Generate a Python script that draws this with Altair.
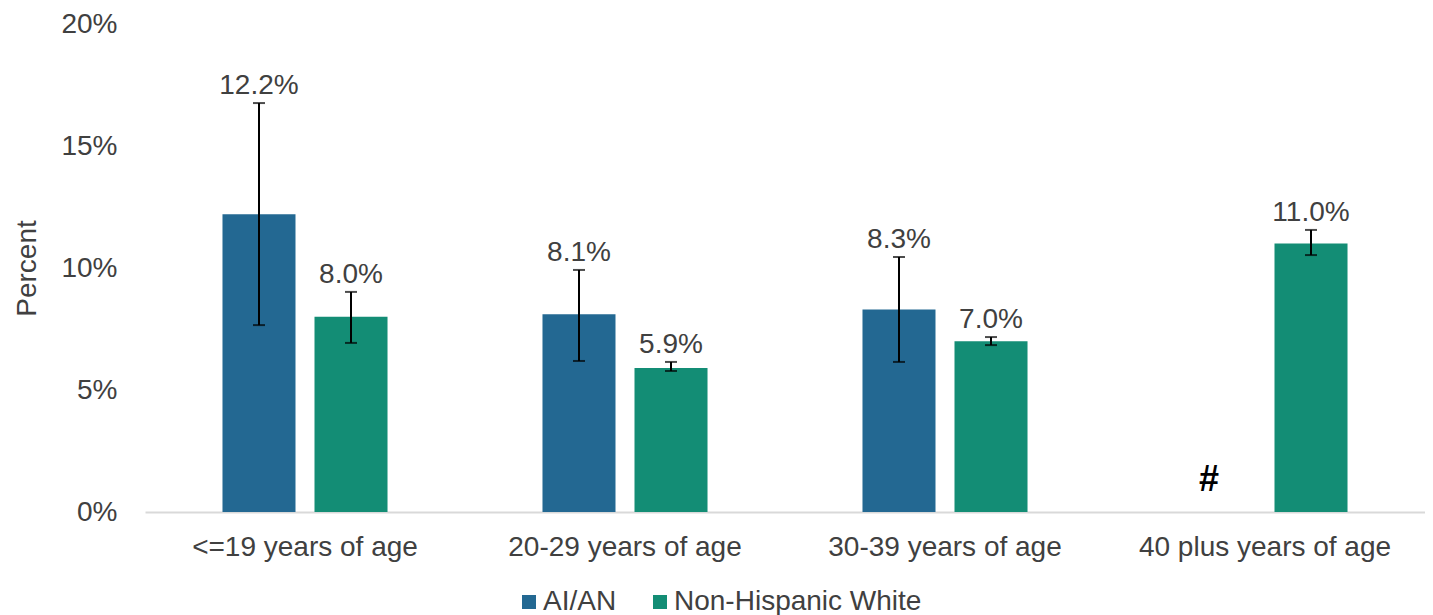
import altair as alt
import pandas as pd

categories = ["<=19 years of age", "20-29 years of age", "30-39 years of age", "40 plus years of age"]
series = ["AI/AN", "Non-Hispanic White"]
aian_values = [12.2, 8.1, 8.3, None]
aian_lower = [7.66, 6.19, 6.15, None]
aian_upper = [16.76, 9.92, 10.45, None]
nhw_values = [8.0, 5.9, 7.0, 11.0]
nhw_lower = [6.93, 5.78, 6.84, 10.53]
nhw_upper = [9.02, 6.15, 7.17, 11.56]
y_ticks = [0, 5, 10, 15, 20]
suppressed_marker = "#"
colors = ["#236892", "#138d75"]

rows = []
for i, c in enumerate(categories):
    rows.append(dict(category=c, series=series[0], value=aian_values[i], lo=aian_lower[i], hi=aian_upper[i]))
    rows.append(dict(category=c, series=series[1], value=nhw_values[i], lo=nhw_lower[i], hi=nhw_upper[i]))
df = pd.DataFrame(rows)
df["label"] = df["value"].map(lambda v: f"{v:.1f}%" if pd.notna(v) else suppressed_marker)

FONT = "Liberation Sans"
TXT = "#404040"
FS = 28

x_enc = alt.X(
    "category:N",
    sort=categories,
    scale=alt.Scale(paddingInner=0, paddingOuter=0),
    axis=alt.Axis(
        title=None, labelFontSize=FS, labelColor=TXT, ticks=False,
        domainColor="#d9d9d9", domainWidth=2, labelPadding=21, labelAngle=0,
        labelLimit=500, labelFont=FONT,
    ),
)
xo_enc = alt.XOffset("series:N", sort=series, scale=alt.Scale(paddingInner=0.2065, paddingOuter=0.842))
y_axis = alt.Axis(
    values=y_ticks, labelExpr="datum.value + '%'", domain=False, ticks=False, grid=False,
    labelFontSize=FS, labelColor=TXT, labelPadding=28, labelFont=FONT,
    title="Percent", titleFontSize=FS, titleFontWeight="normal", titleColor=TXT, titleFont=FONT,
    titleX=-110, titleY=244, titleAngle=270, titleBaseline="alphabetic", titleAlign="center",
)
y_scale = alt.Scale(domain=[0, 20])

base = alt.Chart(df)

bars = base.transform_filter("isValid(datum.value)").mark_bar().encode(
    x=x_enc,
    xOffset=xo_enc,
    y=alt.Y("value:Q", scale=y_scale, axis=y_axis),
    color=alt.Color(
        "series:N",
        sort=series,
        scale=alt.Scale(domain=series, range=colors),
        legend=alt.Legend(
            orient="none", legendX=370, legendY=564, direction="horizontal",
            symbolType="square", symbolSize=196, labelFontSize=FS, labelColor=TXT,
            labelFont=FONT, labelLimit=500, title=None, columnPadding=29, labelOffset=0,
            padding=0, symbolStrokeWidth=0, symbolOpacity=1,
        ),
    ),
)

err = base.transform_filter("isValid(datum.value)").mark_rule(color="black", strokeWidth=2).encode(
    x=x_enc, xOffset=xo_enc, y=alt.Y("lo:Q", scale=y_scale), y2="hi:Q"
)
cap_lo = base.transform_filter("isValid(datum.value)").mark_tick(color="black", thickness=2, size=12).encode(
    x=x_enc, xOffset=xo_enc, y=alt.Y("lo:Q", scale=y_scale)
)
cap_hi = base.transform_filter("isValid(datum.value)").mark_tick(color="black", thickness=2, size=12).encode(
    x=x_enc, xOffset=xo_enc, y=alt.Y("hi:Q", scale=y_scale)
)
labels = base.transform_filter("isValid(datum.value)").mark_text(
    fontSize=FS, color=TXT, baseline="alphabetic", dy=-9, font=FONT
).encode(x=x_enc, xOffset=xo_enc, y=alt.Y("hi:Q", scale=y_scale), text="label:N")

marker = base.transform_filter("!isValid(datum.value)").transform_calculate(zero="0").mark_text(
    fontSize=36, color="black", fontWeight="bold", baseline="alphabetic", dy=-21, dx=-10, font=FONT
).encode(x=x_enc, xOffset=xo_enc, y=alt.Y("zero:Q", scale=y_scale), text="label:N")

chart = alt.layer(bars, err, cap_lo, cap_hi, labels, marker).properties(
    width=1280, height=488, autosize="none",
    padding={"left": 137, "top": 16, "right": 0, "bottom": 103},
).configure(font=FONT).configure_view(stroke=None)

chart.save("out.html", embed_options={"renderer": "svg", "actions": False})
